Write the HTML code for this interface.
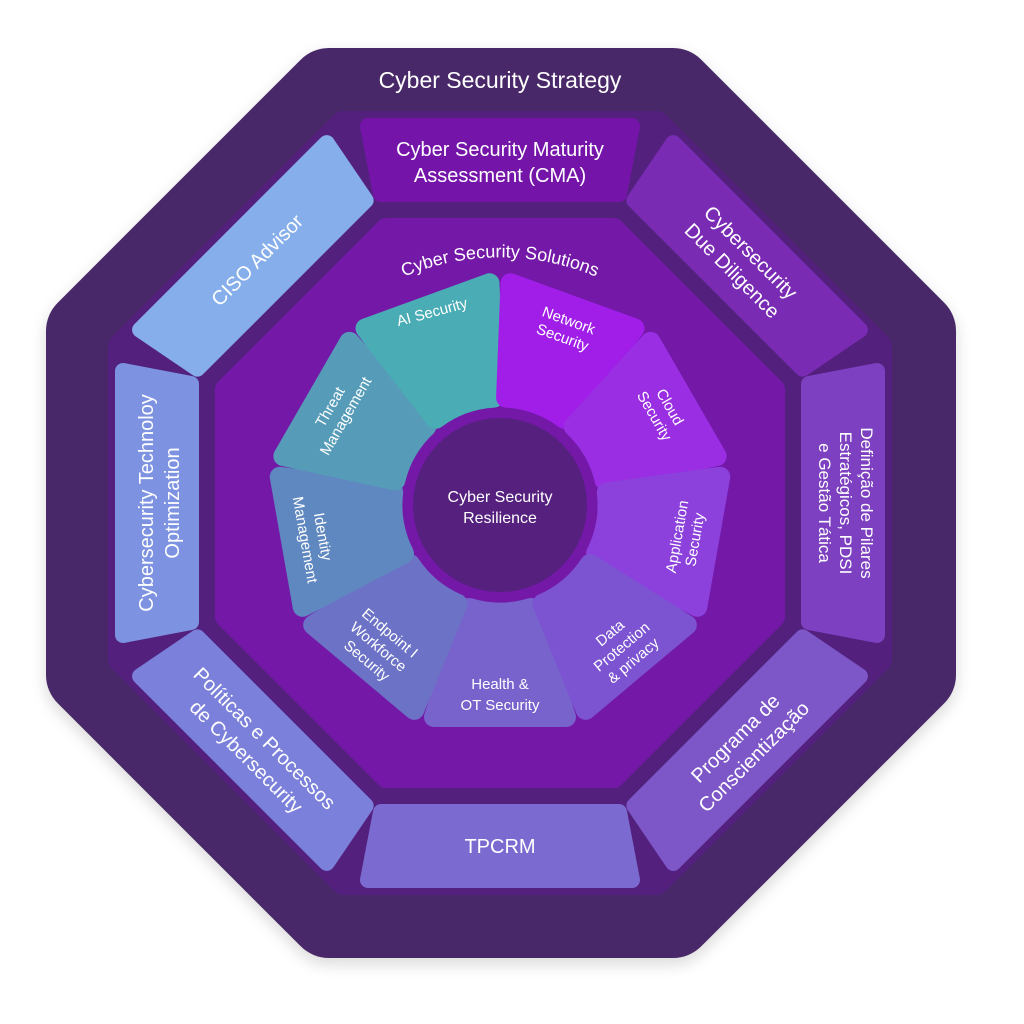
<!DOCTYPE html>
<html><head><meta charset="utf-8"><style>
html,body{margin:0;padding:0;background:#fff;width:1024px;height:1024px;overflow:hidden}
svg{display:block}
text{font-family:"Liberation Sans",sans-serif;fill:#fff;text-anchor:middle}
</style></head><body>
<svg width="1024" height="1024" viewBox="0 0 1024 1024">
<defs>
<filter id="sh" x="-10%" y="-10%" width="120%" height="120%"><feGaussianBlur stdDeviation="8"/></filter>
<path id="arc" d="M 310 346 A 248 248 0 0 1 690 346"/>
</defs>
<polygon points="329,94 673,94 916,337 916,681 673,924 329,924 86,681 86,337" fill="#000" opacity="0.15" stroke="#000" stroke-width="80" stroke-linejoin="round" filter="url(#sh)"/>
<polygon points="329,88 673,88 916,331 916,675 673,918 329,918 86,675 86,331" fill="#482868" stroke="#482868" stroke-width="80" stroke-linejoin="round"/>
<polygon points="344,126 656,126 877,347 877,659 656,880 344,880 123,659 123,347" fill="#53207e" stroke="#53207e" stroke-width="30" stroke-linejoin="round"/>
<g stroke-width="16" stroke-linejoin="round">
<polygon points="368,126 632,126 619,194 381,194" fill="#7414a8" stroke="#7414a8"/>
<polygon points="368,126 632,126 619,194 381,194" fill="#7a2bb4" stroke="#7a2bb4" transform="rotate(45 500 503)"/>
<polygon points="368,126 632,126 619,194 381,194" fill="#7c40c0" stroke="#7c40c0" transform="rotate(90 500 503)"/>
<polygon points="368,126 632,126 619,194 381,194" fill="#7d56c8" stroke="#7d56c8" transform="rotate(135 500 503)"/>
<polygon points="368,126 632,126 619,194 381,194" fill="#7b6ad0" stroke="#7b6ad0" transform="rotate(180 500 503)"/>
<polygon points="368,126 632,126 619,194 381,194" fill="#7b80da" stroke="#7b80da" transform="rotate(225 500 503)"/>
<polygon points="368,126 632,126 619,194 381,194" fill="#7d92e0" stroke="#7d92e0" transform="rotate(270 500 503)"/>
<polygon points="368,126 632,126 619,194 381,194" fill="#86aeea" stroke="#86aeea" transform="rotate(315 500 503)"/>
</g>
<polygon points="386,228 614,228 775,389 775,617 614,778 386,778 225,617 225,389" fill="#7418a8" stroke="#7418a8" stroke-width="20" stroke-linejoin="round"/>
<g transform="translate(500 505)" stroke-width="20" stroke-linejoin="round">
<path d="M -66,212 L 66,212 L 31,103 A 108 108 0 0 1 -31 103 Z" fill="#7862cc" stroke="#7862cc"/>
<path d="M -66,212 L 66,212 L 31,103 A 108 108 0 0 1 -31 103 Z" fill="#6c72c6" stroke="#6c72c6" transform="rotate(40)"/>
<path d="M -66,212 L 66,212 L 31,103 A 108 108 0 0 1 -31 103 Z" fill="#5f88c0" stroke="#5f88c0" transform="rotate(80)"/>
<path d="M -66,212 L 66,212 L 31,103 A 108 108 0 0 1 -31 103 Z" fill="#569cb8" stroke="#569cb8" transform="rotate(120)"/>
<path d="M -66,212 L 66,212 L 31,103 A 108 108 0 0 1 -31 103 Z" fill="#4aacb4" stroke="#4aacb4" transform="rotate(160)"/>
<path d="M -66,212 L 66,212 L 31,103 A 108 108 0 0 1 -31 103 Z" fill="#a01ee8" stroke="#a01ee8" transform="rotate(200)"/>
<path d="M -66,212 L 66,212 L 31,103 A 108 108 0 0 1 -31 103 Z" fill="#9a2ee2" stroke="#9a2ee2" transform="rotate(240)"/>
<path d="M -66,212 L 66,212 L 31,103 A 108 108 0 0 1 -31 103 Z" fill="#8c40dc" stroke="#8c40dc" transform="rotate(280)"/>
<path d="M -66,212 L 66,212 L 31,103 A 108 108 0 0 1 -31 103 Z" fill="#7c54d2" stroke="#7c54d2" transform="rotate(320)"/>
</g>
<circle cx="500" cy="505" r="87" fill="#55207e"/>
<text x="500" y="502" font-size="16">Cyber Security</text>
<text x="500" y="523" font-size="16">Resilience</text>
<text x="500" y="88" font-size="23">Cyber Security Strategy</text>
<text font-size="18"><textPath href="#arc" startOffset="50%">Cyber Security Solutions</textPath></text>
<g font-size="20">
<g transform="translate(500 160)"><text y="-4">Cyber Security Maturity</text><text y="22">Assessment (CMA)</text></g>
<g transform="translate(743 260) rotate(45)"><text y="-4">Cybersecurity</text><text y="22">Due Diligence</text></g>
<g transform="translate(845 503) rotate(90)" font-size="17"><text y="-16">Definição de Pilares</text><text y="5">Estratégicos, PDSI</text><text y="26">e Gestão Tática</text></g>
<g transform="translate(743 746) rotate(-45)"><text y="-4">Programa de</text><text y="22">Conscientização</text></g>
<g transform="translate(500 846)"><text y="7">TPCRM</text></g>
<g transform="translate(257 746) rotate(45)"><text y="-4">Políticas e Processos</text><text y="22">de Cybersecurity</text></g>
<g transform="translate(157 503) rotate(-90)"><text y="-4">Cybersecurity Technoloy</text><text y="22">Optimization</text></g>
<g transform="translate(257 260) rotate(-45)"><text y="7">CISO Advisor</text></g>
</g>
<g font-size="15">
<g transform="translate(432 312) rotate(-15)"><text y="5">AI Security</text></g>
<g transform="translate(566 328) rotate(20)"><text y="-3">Network</text><text y="15">Security</text></g>
<g transform="translate(663 411) rotate(60)"><text y="-3">Cloud</text><text y="15">Security</text></g>
<g transform="translate(685 538) rotate(-80)"><text y="-3">Application</text><text y="15">Security</text></g>
<g transform="translate(621 646) rotate(-40)"><text y="-12">Data</text><text y="6">Protection</text><text y="24">&amp; privacy</text></g>
<g transform="translate(500 693)"><text y="-4">Health &amp;</text><text y="17">OT Security</text></g>
<g transform="translate(379 646) rotate(40)"><text y="-12">Endpoint I</text><text y="6">Workforce</text><text y="24">Security</text></g>
<g transform="translate(315 538) rotate(80)"><text y="-3">Identity</text><text y="15">Management</text></g>
<g transform="translate(337 411) rotate(-60)"><text y="-3">Threat</text><text y="15">Management</text></g>
</g>
</svg>
</body></html>
